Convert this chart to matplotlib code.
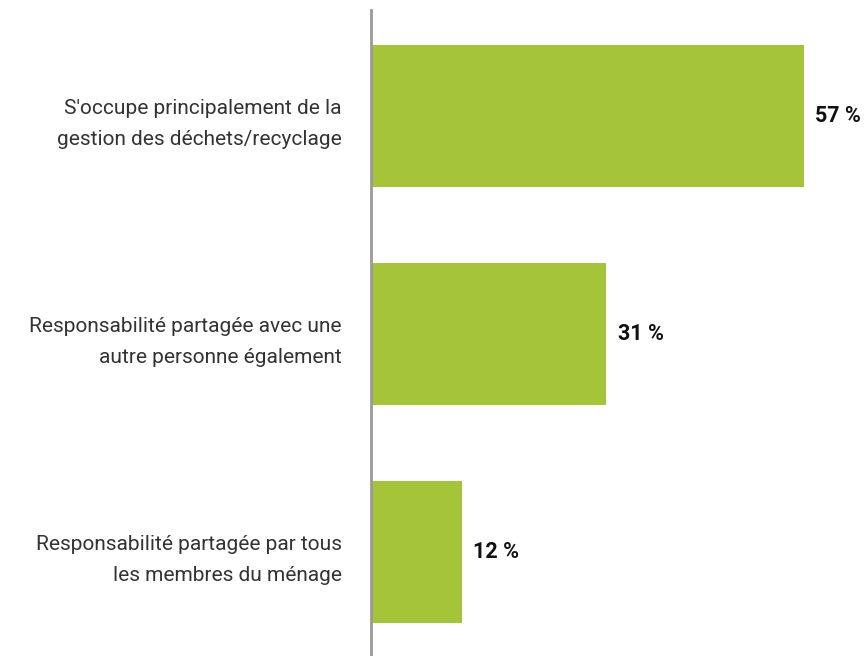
import matplotlib
matplotlib.use("Agg")
from matplotlib import pyplot as plt

categories = [
    "S'occupe principalement de la\ngestion des déchets/recyclage",
    "Responsabilité partagée avec une\nautre personne également",
    "Responsabilité partagée par tous\nles membres du ménage",
]
values = [57, 31, 12]

bar_color = "#A6C43A"

fig = plt.figure(figsize=(8.67, 6.56), dpi=100)
ax = fig.add_axes([371 / 867, 0, 496 / 867, 646 / 656])

y = range(len(categories))
ax.barh(y, values, height=0.65, color=bar_color)
ax.set_xlim(0, 65.3)
ax.set_ylim(2.474, -0.483)

for i, v in enumerate(values):
    ax.annotate(f"{v} %", (v, i), xytext=(8, 0), textcoords="offset points",
                va="center", ha="left", fontsize=15.5, fontweight="bold",
                family="Roboto", color="#111111")

ax.set_yticks(list(y))
ax.set_yticklabels(categories, fontsize=15, family="Roboto", fontweight="normal",
                   color="#333333", linespacing=1.8)
ax.tick_params(axis="y", length=0, pad=21)
ax.set_xticks([])

for s in ["top", "right", "bottom"]:
    ax.spines[s].set_visible(False)
ax.spines["left"].set_color("#999999")
ax.spines["left"].set_linewidth(2)

fig.savefig("out.png", dpi=100)
plt.close(fig)
